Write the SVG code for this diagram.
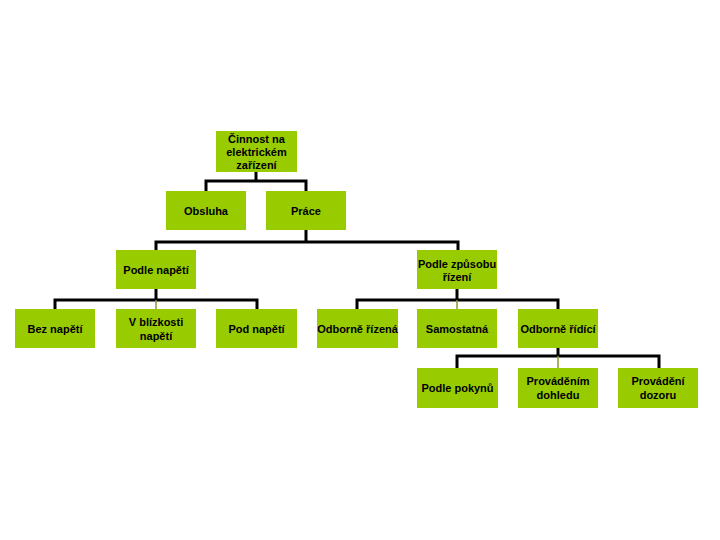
<svg xmlns="http://www.w3.org/2000/svg" width="720" height="540" viewBox="0 0 720 540">
<style>
.box{fill:#99CC00;stroke:none}
.t{font-family:"Liberation Sans",Arial,sans-serif;font-size:11px;font-weight:bold;fill:#000;text-anchor:middle}
.c{fill:none;stroke:#000;stroke-width:3}
.cl{fill:none;stroke:#8a9a30;stroke-width:1.5}
</style>
<rect width="720" height="540" fill="#fff"/>
<g id="connectors">
<path class="c" d="M256,172V181M206,191V181H306V191"/>
<path class="c" d="M306,230V242M156,251V242H458V251"/>
<path class="c" d="M156,289V300M55,309V300H257V309"/>
<path class="cl" d="M156,300V309"/>
<path class="c" d="M457,289V300M357,309V300H558V309"/>
<path class="cl" d="M457,300V309"/>
<path class="c" d="M558,348V356M457,368V356H659V368"/>
<path class="cl" d="M558,356V368"/>
</g>
<g id="n-cinnost"><rect class="box" x="216" y="131" width="81" height="41"/><text class="t" x="256.5" y="143">Činnost na</text><text class="t" x="256.5" y="156">elektrickém</text><text class="t" x="256.5" y="169">zařízení</text></g>
<g id="n-obsluha"><rect class="box" x="166" y="191" width="80" height="39"/><text class="t" x="206" y="214.5">Obsluha</text></g>
<g id="n-prace"><rect class="box" x="266" y="191" width="80" height="39"/><text class="t" x="306" y="214.5">Práce</text></g>
<g id="n-podle-napeti"><rect class="box" x="116" y="250" width="80" height="39"/><text class="t" x="156" y="273.5">Podle napětí</text></g>
<g id="n-podle-zpusobu"><rect class="box" x="417" y="250" width="80" height="39"/><text class="t" x="457" y="267.5">Podle způsobu</text><text class="t" x="457" y="281">řízení</text></g>
<g id="n-bez"><rect class="box" x="15" y="309" width="80" height="39"/><text class="t" x="55" y="332.5">Bez napětí</text></g>
<g id="n-vblizkosti"><rect class="box" x="116" y="309" width="80" height="39"/><text class="t" x="156" y="326">V blízkosti</text><text class="t" x="156" y="340">napětí</text></g>
<g id="n-pod"><rect class="box" x="216" y="309" width="81" height="39"/><text class="t" x="256.5" y="332.5">Pod napětí</text></g>
<g id="n-odborne-rizena"><rect class="box" x="317" y="309" width="81" height="39"/><text class="t" x="357.5" y="332.5">Odborně řízená</text></g>
<g id="n-samostatna"><rect class="box" x="417" y="309" width="80" height="39"/><text class="t" x="457" y="332.5">Samostatná</text></g>
<g id="n-odborne-ridici"><rect class="box" x="518" y="309" width="80" height="39"/><text class="t" x="558" y="332.5">Odborně řídící</text></g>
<g id="n-pokynu"><rect class="box" x="417" y="368" width="81" height="40"/><text class="t" x="457.5" y="392">Podle pokynů</text></g>
<g id="n-dohledu"><rect class="box" x="518" y="368" width="80" height="40"/><text class="t" x="558" y="385">Prováděním</text><text class="t" x="558" y="399">dohledu</text></g>
<g id="n-dozoru"><rect class="box" x="618" y="368" width="80" height="40"/><text class="t" x="658" y="385">Provádění</text><text class="t" x="658" y="399">dozoru</text></g>
</svg>
